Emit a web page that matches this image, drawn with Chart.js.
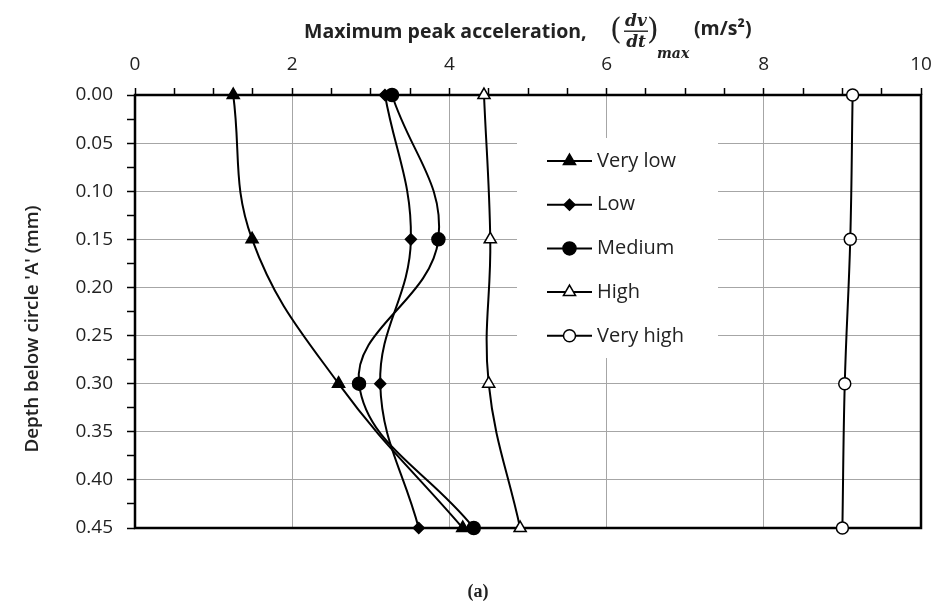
<!DOCTYPE html>
<html>
<head>
<meta charset="utf-8">
<script src="https://cdn.jsdelivr.net/npm/chart.js@4.4.1/dist/chart.umd.min.js"></script>
<style>
  html, body { margin: 0; padding: 0; background: #fff; }
  #wrap { width: 944px; height: 605px; }
</style>
</head>
<body>
<div id="wrap"><canvas id="accelChart" width="944" height="605"></canvas></div>
<script>
// depth below circle 'A' (mm)
const depths = [0.00, 0.15, 0.30, 0.45];

// maximum peak acceleration (m/s2) per loading level
const veryLow  = [1.25, 1.49, 2.59, 4.17];
const low      = [3.18, 3.51, 3.12, 3.61];
const medium   = [3.27, 3.86, 2.85, 4.31];
const high     = [4.44, 4.52, 4.50, 4.90];
const veryHigh = [9.13, 9.10, 9.03, 9.00];

const seriesNames = ['Very low', 'Low', 'Medium', 'High', 'Very high'];

const xTickLabels = ['0', '2', '4', '6', '8', '10'];

const FONT = '"Open Sans", "Noto Sans", sans-serif';
const INK = '#222';

function toPoints(values) {
    return values.map(function (v, i) { return { x: v, y: depths[i] }; });
}

function series(label, values, style, radius, fill) {
    return {
        label: label,
        data: toPoints(values),
        showLine: true,
        tension: 0.4,
        borderColor: '#000',
        borderWidth: 2,
        pointStyle: style,
        pointRadius: radius,
        pointHoverRadius: radius,
        pointBackgroundColor: fill,
        pointBorderColor: '#000',
        pointBorderWidth: 1.5,
        clip: false
    };
}

// plot frame, axis titles and the inset legend
const decorations = {
    id: 'decorations',
    beforeDatasetsDraw(chart) {
        const ctx = chart.ctx;
        const a = chart.chartArea;
        ctx.save();
        ctx.strokeStyle = '#000';
        ctx.lineWidth = 2.5;
        ctx.strokeRect(a.left, a.top, a.right - a.left, a.bottom - a.top);
        ctx.restore();
    },
    afterDatasetsDraw(chart) {
        const ctx = chart.ctx;
        ctx.save();

        // legend box
        ctx.fillStyle = '#fff';
        ctx.fillRect(517, 138, 201, 220);
        chart.data.datasets.forEach(function (ds, i) {
            const y = 161 + i * 43.7;
            ctx.strokeStyle = '#000';
            ctx.lineWidth = 2;
            ctx.beginPath();
            ctx.moveTo(547, y);
            ctx.lineTo(592, y);
            ctx.stroke();
            ctx.fillStyle = ds.pointBackgroundColor;
            ctx.lineWidth = 1.5;
            Chart.helpers.drawPoint(ctx, {
                pointStyle: ds.pointStyle,
                radius: ds.pointRadius,
                borderWidth: 1.5
            }, 569.5, y);
            ctx.fillStyle = INK;
            ctx.font = '20px ' + FONT;
            ctx.textAlign = 'left';
            ctx.textBaseline = 'middle';
            ctx.fillText(ds.label, 597, y);
        });

        // top axis title with the derivative written as a fraction
        ctx.fillStyle = INK;
        ctx.textBaseline = 'alphabetic';
        ctx.textAlign = 'left';
        ctx.font = 'bold 19.5px ' + FONT;
        ctx.fillText('Maximum peak acceleration,', 304, 38);

        ctx.font = '30px "DejaVu Serif", serif';
        ctx.fillText('(', 610, 39);
        ctx.fillText(')', 647, 39);
        ctx.font = 'italic bold 17px "DejaVu Serif", serif';
        ctx.textAlign = 'center';
        ctx.fillText('dv', 636, 26);
        ctx.fillText('dt', 636, 47);
        ctx.fillRect(624, 30.5, 24, 1.4);
        ctx.font = 'italic bold 14px "DejaVu Serif", serif';
        ctx.textAlign = 'left';
        ctx.fillText('max', 657, 58);
        ctx.font = 'bold 19.5px ' + FONT;
        ctx.fillText('(m/s\u00B2)', 694, 35);

        // left axis title
        ctx.save();
        ctx.translate(33, 329);
        ctx.rotate(-Math.PI / 2);
        ctx.font = '600 18.8px ' + FONT;
        ctx.textAlign = 'center';
        ctx.textBaseline = 'middle';
        ctx.fillText("Depth below circle 'A' (mm)", 0, 0);
        ctx.restore();

        // panel caption
        ctx.font = 'bold 18px "Liberation Serif", serif';
        ctx.textAlign = 'center';
        ctx.textBaseline = 'middle';
        ctx.fillText('(a)', 478, 592);

        ctx.restore();
    }
};

document.addEventListener('DOMContentLoaded', function () {
    const ctxAccel = document.getElementById('accelChart').getContext('2d');
    new Chart(ctxAccel, {
        type: 'scatter',
        data: {
            datasets: [
                series(seriesNames[0], veryLow, 'triangle', 7, '#000'),
                series(seriesNames[1], low, 'rectRot', 5.5, '#000'),
                series(seriesNames[2], medium, 'circle', 6.5, '#000'),
                series(seriesNames[3], high, 'triangle', 7, '#fff'),
                series(seriesNames[4], veryHigh, 'circle', 6, '#fff')
            ]
        },
        options: {
            responsive: false,
            animation: false,
            layout: {
                padding: { left: 0, top: 0, right: 23, bottom: 77 }
            },
            scales: {
                x: {
                    type: 'linear',
                    position: 'top',
                    min: 0,
                    max: 10,
                    afterFit: function (scale) { scale.height = 95; },
                    border: { display: false },
                    grid: {
                        color: function (c) {
                            return Math.round(c.tick.value * 2) % 4 === 0 ? '#a6a6a6' : 'rgba(0,0,0,0)';
                        },
                        tickColor: '#000',
                        tickLength: 7,
                        tickWidth: 1.5,
                        lineWidth: 1
                    },
                    ticks: {
                        stepSize: 0.5,
                        autoSkip: false,
                        maxRotation: 0,
                        padding: 12,
                        color: INK,
                        font: { family: FONT, size: 19 },
                        callback: function (value) {
                            const k = Math.round(value * 2);
                            return k % 4 === 0 ? xTickLabels[k / 4] : '';
                        }
                    }
                },
                y: {
                    type: 'linear',
                    reverse: true,
                    min: 0,
                    max: 0.45,
                    afterFit: function (scale) { scale.width = 135; },
                    border: { display: false },
                    grid: {
                        color: function (c) {
                            return Math.round(c.tick.value * 1000) % 50 === 0 ? '#a6a6a6' : 'rgba(0,0,0,0)';
                        },
                        tickColor: '#000',
                        tickLength: 8,
                        tickWidth: 1.5,
                        lineWidth: 1
                    },
                    ticks: {
                        stepSize: 0.025,
                        autoSkip: false,
                        padding: 14,
                        color: INK,
                        font: { family: FONT, size: 19 },
                        callback: function (value) {
                            return Math.round(value * 1000) % 50 === 0 ? value.toFixed(2) : '';
                        }
                    }
                }
            },
            plugins: {
                legend: { display: false },
                tooltip: { enabled: false }
            }
        },
        plugins: [decorations]
    });
});
</script>
</body>
</html>
